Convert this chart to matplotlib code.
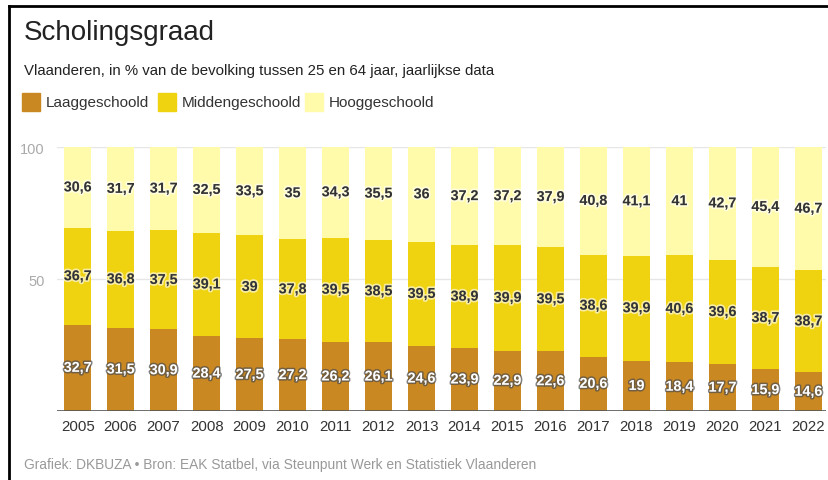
import matplotlib
matplotlib.use("Agg")
import matplotlib.pyplot as plt
import matplotlib.patheffects as pe
from matplotlib.lines import Line2D
from matplotlib.patches import Rectangle
import numpy as np

plt.rcParams['font.family'] = ['Liberation Sans', 'DejaVu Sans']

years = ['2005', '2006', '2007', '2008', '2009', '2010', '2011', '2012', '2013',
         '2014', '2015', '2016', '2017', '2018', '2019', '2020', '2021', '2022']
laag = [32.7, 31.5, 30.9, 28.4, 27.5, 27.2, 26.2, 26.1, 24.6,
        23.9, 22.9, 22.6, 20.6, 19, 18.4, 17.7, 15.9, 14.6]
midden = [36.7, 36.8, 37.5, 39.1, 39, 37.8, 39.5, 38.5, 39.5,
          38.9, 39.9, 39.5, 38.6, 39.9, 40.6, 39.6, 38.7, 38.7]
hoog = [30.6, 31.7, 31.7, 32.5, 33.5, 35, 34.3, 35.5, 36,
        37.2, 37.2, 37.9, 40.8, 41.1, 41, 42.7, 45.4, 46.7]
series_names = ['Laaggeschoold', 'Middengeschoold', 'Hooggeschoold']
yticks = [50, 100]

col_laag = '#C98822'
col_mid = '#EFD311'
col_hoog = '#FFFBAA'

fig = plt.figure(figsize=(8.29, 4.81), dpi=100)
ax = fig.add_axes([57 / 829, 69 / 481, (826 - 57) / 829, (412 - 148) / 481])

x = np.arange(len(years))
w = 0.63
laag_a = np.array(laag)
mid_a = np.array(midden)
hoog_a = np.array(hoog)

for yv in yticks:
    ax.axhline(yv, color='#e6e6e6', lw=1, zorder=0)

ax.bar(x, laag_a, w, color=col_laag, zorder=2)
ax.bar(x, mid_a, w, bottom=laag_a, color=col_mid, zorder=2)
ax.bar(x, hoog_a, w, bottom=laag_a + mid_a, color=col_hoog, zorder=2)
ax.axhline(0, color='#555555', lw=1.2, zorder=3)


def fmt(v):
    return ('%g' % v).replace('.', ',')


halo_light = [pe.withStroke(linewidth=2.5, foreground=(1, 1, 1, 0.6))]
halo_dark = [pe.withStroke(linewidth=2.2, foreground=(0.3, 0.3, 0.3, 0.7))]

lab_fs = 10.3
for i in range(len(years)):
    ax.text(x[i], laag_a[i] / 2, fmt(laag[i]), ha='center', va='center',
            fontsize=lab_fs, fontweight='bold', color='white', path_effects=halo_dark, zorder=4)
    ax.text(x[i], laag_a[i] + mid_a[i] / 2, fmt(midden[i]), ha='center', va='center',
            fontsize=lab_fs, fontweight='bold', color='#333333', path_effects=halo_light, zorder=4)
    ax.text(x[i], laag_a[i] + mid_a[i] + hoog_a[i] / 2, fmt(hoog[i]), ha='center', va='center',
            fontsize=lab_fs, fontweight='bold', color='#333333', path_effects=halo_light, zorder=4)

ax.set_xlim(-0.48, 17.41)
ax.set_ylim(0, 100)
ax.set_xticks(x)
ax.set_xticklabels(years, fontsize=10.8, color='#333333')
ax.set_yticks(yticks)
ax.set_yticklabels([str(v) for v in yticks], fontsize=10.5, color='#aaaaaa')
ax.tick_params(axis='both', length=0)
ax.tick_params(axis='x', pad=6)
ax.tick_params(axis='y', pad=9)
for s in ax.spines.values():
    s.set_visible(False)

# titles
fig.text(24 / 829, 1 - 33 / 481, 'Scholingsgraad', fontsize=20, color='#222222', va='center')
fig.text(24 / 829, 1 - 71 / 481,
         'Vlaanderen, in % van de bevolking tussen 25 en 64 jaar, jaarlijkse data',
         fontsize=10.8, color='#222222', va='center')

# legend
leg_x = [22, 158, 305]
for lx, name, c in zip(leg_x, series_names, [col_laag, col_mid, col_hoog]):
    fig.add_artist(Rectangle((lx / 829, 1 - 112 / 481), 18 / 829, 18 / 481,
                             transform=fig.transFigure, color=c))
    fig.text((lx + 24) / 829, 1 - 103 / 481, name, fontsize=11, color='#333333', va='center')

fig.text(24 / 829, 1 - 465 / 481,
         'Grafiek: DKBUZA \u2022 Bron: EAK Statbel, via Steunpunt Werk en Statistiek Vlaanderen',
         fontsize=9.9, color='#999999', va='center')

# frame
fig.add_artist(Line2D([9 / 829, 1], [1 - 7 / 481, 1 - 7 / 481], color='black', lw=2,
                      transform=fig.transFigure))
fig.add_artist(Line2D([9 / 829, 9 / 829], [0, 1 - 7 / 481], color='black', lw=2,
                      transform=fig.transFigure))

fig.savefig('out.png', dpi=100)
